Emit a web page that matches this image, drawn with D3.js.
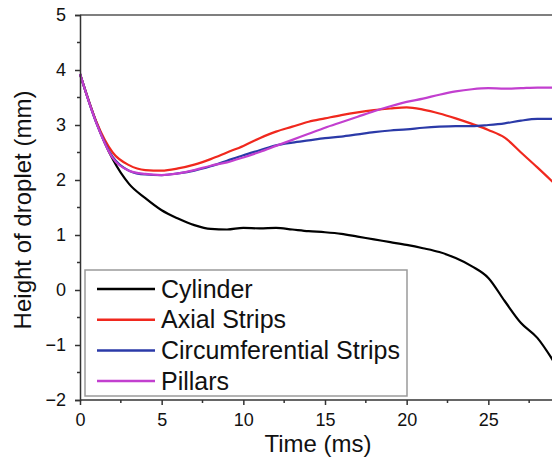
<!DOCTYPE html>
<html>
<head>
<meta charset="utf-8">
<script src="https://cdn.jsdelivr.net/npm/d3@7"></script>
<style>
  html, body { margin: 0; padding: 0; background: #fff; }
  svg { display: block; font-family: "Liberation Sans", Arial, sans-serif; }
</style>
</head>
<body>
<svg id="chart" width="552" height="467"></svg>
<script>
const time = [0,1,2,3,4,5,6,7,8,9,10,11,12,13,14,15,16,17,18,19,20,21,22,23,24,25,26,27,28,29];
const cylinder = [3.93,3.05,2.38,1.93,1.67,1.45,1.30,1.18,1.11,1.10,1.13,1.12,1.13,1.10,1.07,1.05,1.02,0.97,0.92,0.87,0.82,0.76,0.69,0.58,0.43,0.22,-0.20,-0.60,-0.87,-1.30];
const axialStrips = [3.93,3.06,2.50,2.27,2.18,2.17,2.21,2.28,2.38,2.50,2.62,2.76,2.88,2.97,3.06,3.12,3.18,3.23,3.27,3.30,3.32,3.28,3.21,3.12,3.02,2.91,2.77,2.50,2.23,1.95];
const circumferentialStrips = [3.93,3.04,2.42,2.17,2.10,2.09,2.12,2.17,2.25,2.35,2.45,2.54,2.63,2.68,2.72,2.76,2.79,2.83,2.87,2.90,2.92,2.95,2.97,2.98,2.98,3.00,3.03,3.08,3.11,3.11];
const pillars = [3.93,3.04,2.40,2.17,2.11,2.09,2.12,2.18,2.26,2.32,2.41,2.51,2.62,2.73,2.84,2.95,3.05,3.15,3.25,3.34,3.42,3.48,3.55,3.61,3.65,3.67,3.66,3.67,3.68,3.68];
const seriesNames = ["Cylinder","Axial Strips","Circumferential Strips","Pillars"];
const seriesColors = ["#000000","#f0281e","#2b3aa8","#c23fcf"];
const xTicks = [0,5,10,15,20,25];
const yTicks = [-2,-1,0,1,2,3,4,5];

const seriesData = [cylinder, axialStrips, circumferentialStrips, pillars];

const svg = d3.select("#chart");
const x = d3.scaleLinear().domain([0,30]).range([80,570]);
const y = d3.scaleLinear().domain([-2,5]).range([400,15]);
const axisColor = "#333";

// lines
const line = d3.line().x((d,i)=>x(time[i])).y(d=>y(d)).curve(d3.curveMonotoneX);
seriesData.forEach((s,k)=>{
  svg.append("path").datum(s).attr("d", line)
    .attr("fill","none").attr("stroke", seriesColors[k])
    .attr("stroke-width", 2.2).attr("stroke-linejoin","round");
});

// top frame line
svg.append("line").attr("x1",x(0)).attr("x2",552).attr("y1",y(5)).attr("y2",y(5))
  .attr("stroke","#555").attr("stroke-width",1.5);

// x axis
const gx = svg.append("g").attr("transform",`translate(0,${y(-2)})`);
gx.call(d3.axisBottom(x).tickValues(xTicks).tickSize(5).tickPadding(8).tickFormat(d3.format("d")));
gx.append("g").selectAll("line").data(d3.range(2.5,30,5)).join("line")
  .attr("x1",d=>x(d)).attr("x2",d=>x(d)).attr("y1",0).attr("y2",3).attr("stroke",axisColor).attr("stroke-width",1.5);
gx.select(".domain").attr("d",`M${x(0)},0H552`);

// y axis
const gy = svg.append("g").attr("transform",`translate(${x(0)},0)`);
gy.call(d3.axisLeft(y).tickValues(yTicks).tickSize(5).tickPadding(9).tickFormat(d3.format("d")));
gy.append("g").selectAll("line").data(d3.range(-1.5,5,1)).join("line")
  .attr("x1",0).attr("x2",-3).attr("y1",d=>y(d)).attr("y2",d=>y(d)).attr("stroke",axisColor).attr("stroke-width",1.5);

[gx,gy].forEach(g=>{
  g.selectAll(".domain").attr("stroke",axisColor).attr("stroke-width",1.5);
  g.selectAll(".tick line").attr("stroke",axisColor).attr("stroke-width",1.5);
  g.selectAll(".tick text").attr("font-size",18).attr("fill","#111")
    .attr("font-family","'Liberation Sans', Arial, sans-serif");
});

// axis titles
svg.append("text").attr("x",318).attr("y",452).attr("text-anchor","middle")
  .attr("font-size",24).attr("fill","#111").text("Time (ms)");
svg.append("text").attr("transform","translate(31,210) rotate(-90)").attr("text-anchor","middle")
  .attr("font-size",24).attr("fill","#111").text("Height of droplet (mm)");

// legend
const lg = svg.append("g");
lg.append("rect").attr("x",85).attr("y",270).attr("width",322).attr("height",126)
  .attr("fill","#fff").attr("stroke","#9a9a9a").attr("stroke-width",1.5);
seriesNames.forEach((n,k)=>{
  const yy = 289 + k*30.7;
  lg.append("line").attr("x1",97).attr("x2",155).attr("y1",yy).attr("y2",yy)
    .attr("stroke",seriesColors[k]).attr("stroke-width",2.5);
  lg.append("text").attr("x",161).attr("y",yy+8.5).attr("font-size",25).attr("fill","#111").text(n);
});
</script>
</body>
</html>
